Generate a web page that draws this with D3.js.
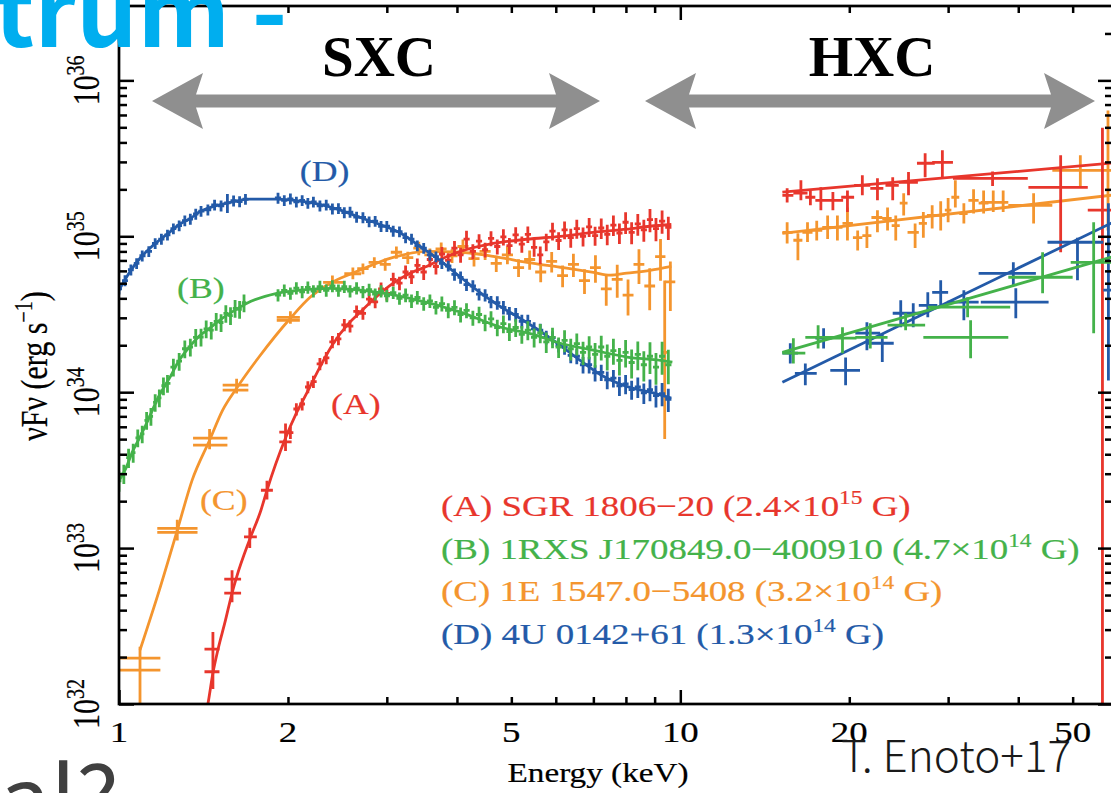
<!DOCTYPE html>
<html>
<head>
<meta charset="utf-8">
<script src="https://cdn.jsdelivr.net/npm/d3@7/dist/d3.min.js"></script>
<style>
html,body{margin:0;padding:0;background:#fff;}
svg{display:block;}
</style>
</head>
<body>
<svg id="chart" width="1111" height="793"></svg>
<script>
// ======================= DATA =======================
// axis ticks
const xTickLabels = [1, 2, 5, 10, 20, 50];
const xMajorTicks = [1, 10];
const xMinorTicks = [2, 3, 4, 5, 6, 7, 8, 9, 20, 30, 40, 50];
const yDecades = [32, 33, 34, 35, 36];

const seriesColors = {A: "#e8362c", B: "#44b24a", C: "#f4952e", D: "#235aa8"};

const legendLines = [
  ["A", "(A) SGR 1806\u221220 (2.4\u00d710", "15", " G)"],
  ["B", "(B) 1RXS J170849.0\u2212400910 (4.7\u00d710", "14", " G)"],
  ["C", "(C) 1E 1547.0\u22125408 (3.2\u00d710", "14", " G)"],
  ["D", "(D) 4U 0142+61 (1.3\u00d710", "14", " G)"]
];
// curve tags placed at [keV, flux(1e34 erg/s)]
const curveTags = [["D", "(D)", 2.10, 22.5], ["B", "(B)", 1.269, 4.0], ["A", "(A)", 2.387, 0.723], ["C", "(C)", 1.394, 0.175]];

// flux values in units of 1e34 erg/s, energies in keV
// dense soft-band spectra: [E, flux, fractional error]
const blueSoft1 = [[1.00,4.6,.08],[1.025,5.2,.08],[1.05,6.1,.08],[1.075,6.7,.08],[1.10,7.5,.08],[1.13,8.0,.08],[1.16,9.0,.08],[1.19,9.6,.08],[1.22,10.2,.08],[1.25,11.2,.08],[1.28,11.7,.08],[1.31,12.6,.08],[1.34,12.9,.08],[1.37,13.9,.08],[1.40,14.5,.08],[1.44,14.8,.08],[1.48,15.9,.08],[1.52,15.7,.08],[1.56,16.4,.14],[1.60,16.9,.08],[1.64,16.7,.08],[1.68,17.3,.08]];
const blueSoft2 = [[1.92,17.6,.08],[1.97,17.0,.08],[2.02,17.4,.08],[2.07,16.6,.08],[2.12,17.0,.08],[2.17,16.3,.08],[2.22,16.6,.08],[2.28,15.7,.08],[2.34,15.9,.08],[2.40,15.0,.08],[2.46,15.1,.08],[2.52,14.2,.08],[2.58,14.3,.08],[2.65,13.3,.08],[2.72,13.2,.08],[2.79,12.4,.08],[2.86,12.5,.08],[2.93,11.6,.08],[3.00,11.6,.08],[3.08,10.8,.08],[3.16,10.7,.08],[3.24,9.8,.08],[3.32,9.6,.08],[3.40,8.7,.08],[3.49,8.4,.08],[3.58,7.6,.08],[3.67,7.4,.08],[3.76,6.7,.08],[3.86,6.45,.08],[3.96,5.7,.09],[4.06,5.45,.09],[4.16,4.9,.09],[4.27,4.8,.09],[4.38,4.25,.09],[4.49,4.2,.09],[4.60,3.8,.09],[4.72,3.75,.1],[4.84,3.5,.1],[4.96,3.2,.1],[5.09,3.15,.1],[5.22,2.85,.1],[5.35,2.85,.1],[5.49,2.55,.1],[5.63,2.5,.1],[5.77,2.25,.1],[5.92,2.24,.1],[6.07,2.0,.1],[6.22,1.95,.11],[6.38,1.72,.11],[6.54,1.7,.11],[6.71,1.5,.12],[6.88,1.5,.12],[7.05,1.33,.12],[7.23,1.34,.12],[7.41,1.2,.13],[7.60,1.23,.13],[7.79,1.1,.14],[7.99,1.13,.14],[8.19,1.04,.14],[8.40,1.08,.15],[8.61,0.99,.15],[8.83,1.04,.16],[9.05,0.95,.16],[9.28,0.98,.17],[9.52,0.9,.17]];

const greenSoft1 = [[1.00,0.27,.15],[1.02,0.30,.14],[1.04,0.38,.14],[1.06,0.41,.14],[1.08,0.51,.13],[1.10,0.54,.13],[1.12,0.66,.13],[1.14,0.70,.13],[1.16,0.86,.13],[1.18,0.92,.13],[1.20,1.10,.13],[1.22,1.14,.13],[1.25,1.45,.13],[1.28,1.58,.13],[1.31,1.90,.13],[1.34,1.95,.13],[1.37,2.25,.13],[1.40,2.26,.13],[1.43,2.55,.13],[1.46,2.5,.13],[1.49,2.85,.13],[1.52,2.8,.13],[1.55,3.2,.13],[1.58,3.1,.13],[1.61,3.45,.13],[1.64,3.4,.13],[1.67,3.75,.13]];
const greenSoft2 = [[1.92,4.2,.09],[1.97,4.5,.09],[2.02,4.3,.09],[2.07,4.65,.09],[2.12,4.4,.09],[2.17,4.7,.09],[2.22,4.45,.09],[2.28,4.75,.09],[2.34,4.5,.09],[2.40,4.8,.09],[2.46,4.5,.09],[2.52,4.75,.09],[2.58,4.45,.09],[2.65,4.65,.09],[2.72,4.4,.09],[2.79,4.55,.09],[2.86,4.25,.09],[2.93,4.45,.09],[3.00,4.15,.09],[3.08,4.35,.09],[3.16,4.0,.09],[3.24,4.2,.1],[3.32,3.85,.1],[3.40,4.05,.1],[3.49,3.7,.1],[3.58,3.85,.1],[3.67,3.5,.1],[3.76,3.7,.11],[3.86,3.35,.11],[3.96,3.5,.11],[4.06,3.15,.11],[4.16,3.35,.11],[4.27,3.0,.11],[4.38,3.15,.12],[4.49,2.8,.12],[4.60,2.95,.12],[4.72,2.6,.12],[4.84,2.75,.13],[4.96,2.45,.13],[5.09,2.6,.13],[5.22,2.35,.13],[5.35,2.5,.14],[5.49,2.25,.14],[5.63,2.4,.14],[5.77,2.1,.15],[5.92,2.25,.15],[6.07,1.95,.15],[6.22,2.15,.16],[6.38,1.9,.16],[6.54,2.05,.16],[6.71,1.8,.17],[6.88,1.95,.17],[7.05,1.75,.18],[7.23,1.95,.18],[7.41,1.7,.19],[7.60,1.85,.19],[7.79,1.6,.2],[7.99,1.8,.2],[8.19,1.55,.21],[8.40,1.75,.21],[8.61,1.5,.22],[8.83,1.7,.23],[9.05,1.45,.23],[9.28,1.7,.24],[9.52,1.5,.25]];

const redSoft = [[2.02,0.55,.09],[2.07,0.78,.09],[2.12,0.84,.09],[2.17,1.08,.09],[2.22,1.17,.09],[2.28,1.52,.09],[2.34,1.66,.09],[2.40,2.1,.09],[2.46,2.2,.09],[2.52,2.7,.09],[2.58,2.65,.09],[2.65,3.3,.09],[2.72,3.2,.09],[2.79,3.95,.09],[2.86,3.8,.09],[2.93,4.6,.1],[3.00,4.3,.1],[3.08,5.3,.1],[3.16,5.0,.1],[3.24,5.9,.1],[3.32,5.5,.1],[3.40,6.5,.11],[3.49,5.9,.11],[3.58,7.1,.11],[3.67,6.4,.11],[3.76,7.7,.11],[3.86,7.0,.11],[3.96,8.4,.11],[4.06,7.6,.11],[4.16,9.6,.13],[4.27,8.0,.11],[4.38,9.3,.11],[4.49,8.2,.11],[4.60,9.7,.11],[4.72,8.6,.11],[4.84,9.9,.12],[4.96,8.7,.12],[5.09,10.2,.12],[5.22,8.9,.12],[5.35,10.3,.12],[5.49,8.5,.13],[5.63,7.6,.13],[5.77,9.2,.13],[5.92,10.8,.13],[6.07,9.4,.13],[6.22,11.0,.13],[6.38,9.8,.14],[6.54,11.2,.14],[6.71,10.0,.14],[6.88,11.5,.14],[7.05,10.1,.14],[7.23,11.3,.15],[7.41,10.3,.15],[7.60,11.8,.15],[7.79,10.5,.15],[7.99,12.3,.16],[8.19,10.6,.16],[8.40,12.0,.16],[8.61,11.0,.16],[8.83,12.8,.17],[9.05,11.2,.17],[9.28,12.5,.17],[9.52,11.4,.17]];

const orangeSoft = [[2.72,6.2,.08],[2.85,6.8,.08],[2.98,6.6,.09],[3.12,7.9,.09],[3.27,7.3,.09],[3.42,8.4,.1],[3.58,7.6,.1],[3.75,8.3,.1],[3.92,7.5,.1],[4.10,8.6,.11],[4.29,7.2,.11],[4.49,8.0,.12],[4.70,6.7,.12],[4.92,7.6,.13],[5.15,6.3,.13],[5.39,7.1,.14],[5.64,5.9,.14],[5.90,6.9,.15],[6.17,5.6,.16],[6.45,6.6,.17],[6.75,5.2,.18],[7.06,6.3,.2],[7.38,4.6,.22],[7.72,5.3,.24],[8.07,4.2,.26],[8.44,6.6,.25],[8.82,4.8,.3],[9.22,7.4,.3],[9.60,5.1,.35]];

// sparse points: [E, flux, Elo, Ehi, fluxLo, fluxHi]
const redLow = [[1.47,0.0225,1.42,1.51,0.0178,0.029],[1.47,0.0161,1.42,1.51,0.0125,0.0205],[1.59,0.0633,1.54,1.65,0.054,0.072],[1.59,0.0515,1.54,1.65,0.045,0.06],[1.71,0.118,1.67,1.76,0.10,0.135],[1.835,0.235,1.79,1.88,0.205,0.27],[1.98,0.555,1.93,2.03,0.48,0.63],[1.98,0.48,1.93,2.03,0.42,0.55]];
const orangeLow = [[1.09,0.0197,1.0,1.185,0.001,0.0233],[1.09,0.0165,1.0,1.185,0.001,0.0233],[1.27,0.134,1.17,1.38,0.112,0.152],[1.27,0.126,1.17,1.38,0.112,0.152],[1.45,0.507,1.355,1.56,0.43,0.58],[1.45,0.457,1.355,1.56,0.43,0.58],[1.62,1.11,1.53,1.70,0.98,1.22],[1.62,1.03,1.53,1.70,0.98,1.22],[2.02,3.02,1.91,2.10,2.75,3.3],[2.02,2.89,1.91,2.10,2.75,3.3],[2.40,5.07,2.31,2.51,4.6,5.6],[2.61,5.75,2.52,2.70,5.3,6.3],[9.38,1.8,9.25,9.52,0.5,5.2]];

const redHard = [[15.5,18.3,15.2,15.9,16.5,20.3],[16.4,18.9,15.9,16.85,17.0,22.9],[17.05,17.8,16.7,17.4,15.8,19.7],[17.8,17.0,17.4,18.1,14.7,20.6],[18.7,17.0,18.0,19.5,14.7,19.2],[19.85,17.8,19.35,20.4,14.3,19.7],[21.1,21.2,20.4,21.8,18.3,24.6],[22.45,20.3,21.8,23.0,17.0,23.6],[23.9,21.2,23.2,24.5,17.0,23.9],[25.5,22.2,24.5,26.5,18.3,25.8],[27.3,29.4,26.4,28.4,23.9,34.1],[29.3,29.8,28.1,30.6,23.9,35.6],[36.0,23.5,30.6,41.6,21.0,26.0],[47.6,20.6,41.7,53.2,7.9,33.1],[56.5,14.7,53.2,59.0,0.001,49.7]];
const orangeHard = [[15.5,10.6,15.2,15.85,9.0,12.3],[16.2,9.43,15.9,16.5,7.02,10.45],[16.85,10.6,16.5,17.2,9.2,12.3],[17.5,10.9,17.2,17.9,9.4,12.6],[18.3,11.4,17.9,18.7,9.6,13.6],[19.05,11.4,18.7,19.45,9.4,13.6],[19.85,12.1,19.45,20.3,9.4,15.3],[20.7,9.8,20.3,21.1,8.1,10.9],[21.5,10.1,21.1,21.9,8.4,11.6],[22.45,13.2,21.9,22.9,10.6,14.7],[23.4,13.0,22.9,23.8,10.9,15.3],[24.2,11.7,23.8,24.6,9.4,13.6],[25.0,16.3,24.6,25.4,13.6,18.9],[26.2,10.6,25.4,26.6,8.4,12.1],[27.1,12.1,26.6,27.5,9.8,14.3],[28.1,13.6,27.5,28.6,11.2,15.8],[29.1,13.6,28.6,29.6,10.9,16.8],[30.0,14.7,29.6,30.4,12.3,17.6],[30.9,17.8,30.4,31.4,15.3,22.9],[32.0,14.0,31.4,32.5,12.1,16.3],[33.3,17.0,32.6,34.0,14.0,20.0],[34.7,16.3,34.0,35.4,14.0,19.7],[36.1,16.5,34.3,37.8,14.3,19.7],[37.6,16.5,36.8,38.4,14.3,19.7],[42.6,15.8,38.4,46.0,12.1,18.9],[51.6,26.5,46.0,56.5,20.6,33.1],[57.8,26.5,56.5,59.0,10.9,64.0]];
const blueHard = [[15.7,1.78,15.2,16.2,1.53,2.06],[16.7,1.32,16.0,17.5,1.11,1.53],[18.0,2.22,17.4,18.6,1.91,2.57],[19.7,1.38,18.5,20.9,1.11,1.67],[21.5,2.39,20.5,22.7,1.86,2.81],[22.9,2.06,21.6,24.0,1.56,2.39],[24.7,3.21,23.9,25.7,2.61,3.89],[26.0,3.21,25.4,26.9,2.61,3.72],[27.6,3.61,26.6,28.7,3.02,4.37],[29.1,4.37,28.1,30.0,3.51,5.22],[32.0,3.78,29.9,34.0,2.89,4.51],[39.6,3.78,34.3,45.3,2.98,4.64],[39.2,5.79,34.0,43.0,4.85,6.81],[51.0,9.16,45.1,56.7,5.22,9.8],[57.9,4.51,56.7,59.0,1.19,16.3]];
const greenHard = [[15.9,1.78,15.2,16.7,1.53,2.22],[17.6,2.25,16.7,19.05,1.91,2.69],[19.45,2.22,18.1,20.6,1.78,2.61],[21.8,2.25,20.5,23.4,1.91,2.77],[25.2,2.69,23.4,27.3,2.5,3.21],[32.9,2.25,27.1,38.4,1.65,2.89],[32.5,3.51,27.6,38.7,3.02,4.06],[44.2,5.46,38.4,50.0,4.31,7.9],[54.5,6.81,49.6,59.0,2.39,12.3]];

// model curves: [E, flux]
const blueModelSoft = [[1.0,4.51],[1.05,6.05],[1.09,7.23],[1.135,8.38],[1.18,9.43],[1.23,10.6],[1.28,11.9],[1.34,13.0],[1.39,14.3],[1.48,15.6],[1.58,16.5],[1.71,17.3],[1.91,17.3],[2.10,16.8],[2.28,16.0],[2.48,14.7],[2.69,13.2],[2.92,11.9],[3.17,10.5],[3.44,8.6],[3.73,7.0],[4.05,5.5],[4.40,4.35],[4.77,3.56],[5.18,2.98],[5.63,2.46],[6.11,2.0],[6.63,1.6],[7.2,1.3],[8.02,1.09],[8.84,1.0],[9.64,0.915]];
const greenModelSoft = [[1.0,0.27],[1.025,0.316],[1.06,0.425],[1.09,0.515],[1.12,0.633],[1.18,0.956],[1.23,1.23],[1.28,1.6],[1.34,1.98],[1.39,2.29],[1.45,2.57],[1.51,2.89],[1.61,3.36],[1.69,3.72],[1.91,4.31],[2.10,4.51],[2.38,4.64],[2.69,4.51],[3.30,4.0],[4.06,3.26],[4.79,2.61],[5.47,2.35],[6.11,2.06],[7.0,1.86],[8.04,1.68],[9.22,1.6],[9.68,1.56]];
const redModelSoft = [[1.423,0.0081],[1.44,0.0100],[1.47,0.0158],[1.50,0.0222],[1.545,0.0336],[1.59,0.0515],[1.62,0.0652],[1.71,0.114],[1.79,0.175],[1.835,0.235],[1.98,0.508],[2.07,0.733],[2.16,0.985],[2.28,1.45],[2.41,2.06],[2.55,2.69],[2.69,3.26],[2.83,3.89],[3.08,5.0],[3.30,5.8],[3.54,6.42],[3.78,7.23],[4.06,8.0],[4.64,9.0],[5.33,9.57],[6.11,10.0],[7.0,10.6],[8.03,11.1],[8.83,11.6],[9.64,11.9]];
const orangeModelSoft = [[1.09,0.0222],[1.18,0.0538],[1.27,0.13],[1.35,0.273],[1.45,0.492],[1.53,0.767],[1.62,1.06],[1.78,1.7],[2.02,2.98],[2.19,4.06],[2.38,5.0],[2.63,5.87],[3.08,7.33],[3.54,8.01],[4.06,7.9],[4.64,7.44],[5.33,6.81],[6.11,6.33],[7.0,5.87],[7.5,5.63],[8.03,5.8],[8.83,6.05],[9.64,6.42]];
const redModelHard = [[15.2,19.2],[59,29.5]];
const orangeModelHard = [[15.2,10.45],[59,18.4]];
const blueModelHard = [[15.2,1.16],[59,12.3]];
const greenModelHard = [[15.2,1.80],[59,7.4]];

// ======================= DRAWING =======================
const svg = d3.select("#chart");
const L = 119, R = 1113, T = 6, B = 704;
const x = d3.scaleLog().domain([1, 59]).range([L, R]);
const y = d3.scaleLog().domain([1e32, 3e36]).range([B, T]);
const U = 1e34;
const SX = 1.23; // horizontal stretch of the embedded figure's lettering
const serif = "'Liberation Serif','Times New Roman',Times,serif";

svg.append("rect").attr("width", 1111).attr("height", 793).attr("fill", "#fff");
svg.append("defs").append("clipPath").attr("id", "clip")
  .append("rect").attr("x", L).attr("y", T).attr("width", R - L).attr("height", B - T);

const plot = svg.append("g").attr("clip-path", "url(#clip)");
const line = d3.line().x(d => x(d[0])).y(d => y(d[1] * U)).curve(d3.curveMonotoneX);

function bins(arr) {
  return arr.map((d, i) => {
    const prev = i > 0 ? arr[i - 1][0] : d[0] * d[0] / arr[i + 1][0];
    const next = i < arr.length - 1 ? arr[i + 1][0] : d[0] * d[0] / arr[i - 1][0];
    return [d[0], d[1], Math.sqrt(prev * d[0]), Math.sqrt(d[0] * next), d[1] * (1 - d[2]), d[1] * (1 + d[2])];
  });
}
function cross(d) {
  return `M${x(d[2])},${y(d[1] * U)}H${x(d[3])}M${x(d[0])},${y(d[4] * U)}V${y(d[5] * U)}`;
}
function drawSeries(key, pointSets, models) {
  const g = plot.append("g").attr("stroke", seriesColors[key]).attr("fill", "none");
  pointSets.forEach(set => g.append("path").attr("d", set.map(cross).join("")).attr("stroke-width", 2.8));
  models.forEach(m => g.append("path").attr("d", line(m)).attr("stroke-width", 2.8).attr("stroke-linejoin", "round"));
}
drawSeries("C", [orangeLow, bins(orangeSoft), orangeHard], [orangeModelSoft, orangeModelHard]);
drawSeries("A", [redLow, bins(redSoft), redHard], [redModelSoft, redModelHard]);
drawSeries("D", [bins(blueSoft1), bins(blueSoft2), blueHard], [blueModelSoft, blueModelHard]);
drawSeries("B", [bins(greenSoft1), bins(greenSoft2), greenHard], [greenModelSoft, greenModelHard]);

// axes (inward ticks on all four sides)
const yMajor = yDecades.map(k => Math.pow(10, k));
const yMinor = [];
yDecades.forEach(k => { for (let m = 2; m <= 9; m++) { const v = m * Math.pow(10, k); if (v < 3e36) yMinor.push(v); } });
function styleAxis(g) {
  g.select(".domain").remove();
  g.selectAll(".tick text").remove();
  g.selectAll(".tick line").attr("stroke", "#000").attr("stroke-width", 2.5);
}
const ax = svg.append("g");
[[d3.axisBottom, B], [d3.axisTop, T]].forEach(([f, pos]) => {
  ax.append("g").attr("transform", `translate(0,${pos})`).call(f(x).tickValues(xMajorTicks).tickSize(-14).tickFormat("")).call(styleAxis);
  ax.append("g").attr("transform", `translate(0,${pos})`).call(f(x).tickValues(xMinorTicks).tickSize(-7).tickFormat("")).call(styleAxis);
});
[[d3.axisLeft, L], [d3.axisRight, R]].forEach(([f, pos]) => {
  ax.append("g").attr("transform", `translate(${pos},0)`).call(f(y).tickValues(yMajor).tickSize(-15).tickFormat("")).call(styleAxis);
  ax.append("g").attr("transform", `translate(${pos},0)`).call(f(y).tickValues(yMinor).tickSize(-8).tickFormat("")).call(styleAxis);
});
svg.append("rect").attr("x", L).attr("y", T).attr("width", R - L).attr("height", B - T)
  .attr("fill", "none").attr("stroke", "#000").attr("stroke-width", 2.7);

// figure lettering (slightly heavier, like the scanned original)
function figText(sel, color, size) {
  return sel.attr("font-family", serif).attr("font-size", size).attr("fill", color)
    .attr("stroke", color).attr("stroke-width", 0.2);
}

// tick labels
xTickLabels.forEach(v => {
  figText(svg.append("text").attr("transform", `translate(${x(v)},742) scale(${SX},1)`)
    .attr("text-anchor", "middle"), "#000", 30).text(v);
});
yDecades.forEach(k => {
  const t = figText(svg.append("text").attr("transform", `translate(99,${y(Math.pow(10, k))}) scale(${SX},1) rotate(-90)`)
    .attr("text-anchor", "middle"), "#000", 30);
  t.append("tspan").text("10");
  t.append("tspan").attr("font-size", 20).attr("dy", -12).text(k);
});

// axis titles
const yt = figText(svg.append("text").attr("transform", `translate(47,366) scale(${SX},1) rotate(-90)`)
  .attr("text-anchor", "middle"), "#000", 30);
yt.append("tspan").text("\u03bdF\u03bd (erg s");
yt.append("tspan").attr("font-size", 20).attr("dy", -12).text("\u22121");
yt.append("tspan").attr("dy", 12).text(")");
figText(svg.append("text").attr("transform", `translate(598,782) scale(${SX},1)`)
  .attr("text-anchor", "middle"), "#000", 27).text("Energy (keV)");

// curve tags
curveTags.forEach(([k, s, e, f]) => {
  figText(svg.append("text").attr("transform", `translate(${x(e)},${y(f * U)}) scale(${SX},1)`), seriesColors[k], 29).text(s);
});

// legend
legendLines.forEach(([k, a, sup, b], i) => {
  const t = figText(svg.append("text").attr("transform", `translate(441,${516 + i * 42.5}) scale(${SX},1)`), seriesColors[k], 30);
  t.append("tspan").text(a);
  t.append("tspan").attr("font-size", 19).attr("dy", -12).text(sup);
  t.append("tspan").attr("dy", 12).text(b);
});

// SXC / HXC double arrows
function dblArrow(x1, x2, yc) {
  const hl = 51, hh = 28, sh = 6.5, nb = 7;
  return `M${x1},${yc}L${x1 + hl},${yc - hh}L${x1 + hl - nb},${yc - sh}L${x2 - hl + nb},${yc - sh}L${x2 - hl},${yc - hh}L${x2},${yc}` +
    `L${x2 - hl},${yc + hh}L${x2 - hl + nb},${yc + sh}L${x1 + hl - nb},${yc + sh}L${x1 + hl},${yc + hh}Z`;
}
svg.append("path").attr("d", dblArrow(152, 600, 101)).attr("fill", "#8f8f8f");
svg.append("path").attr("d", dblArrow(645, 1095, 101)).attr("fill", "#8f8f8f");
svg.append("text").attr("x", 379).attr("y", 76).attr("text-anchor", "middle").attr("font-family", serif)
  .attr("font-weight", "bold").attr("font-size", 57).attr("fill", "#000").text("SXC");
svg.append("text").attr("x", 872).attr("y", 76).attr("text-anchor", "middle").attr("font-family", serif)
  .attr("font-weight", "bold").attr("font-size", 57).attr("fill", "#000").text("HXC");

// slide overlays
const sans = "'Noto Sans CJK JP','Noto Sans',sans-serif";
svg.append("text").attr("x", -6).attr("y", 47).attr("font-family", sans).attr("font-weight", 700)
  .attr("font-size", 96).attr("fill", "#00aeef").text("trum -");
svg.append("text").attr("x", 0).attr("y", 832).attr("font-family", sans).attr("font-weight", 400)
  .attr("font-size", 90).attr("fill", "#404040").text("al?");
svg.append("text").attr("x", 841).attr("y", 772).attr("font-family", sans).attr("font-weight", 300)
  .attr("font-size", 44).attr("textLength", 230).attr("lengthAdjust", "spacingAndGlyphs")
  .attr("fill", "#1a1a1a").text("T. Enoto+17");
</script>
</body>
</html>
